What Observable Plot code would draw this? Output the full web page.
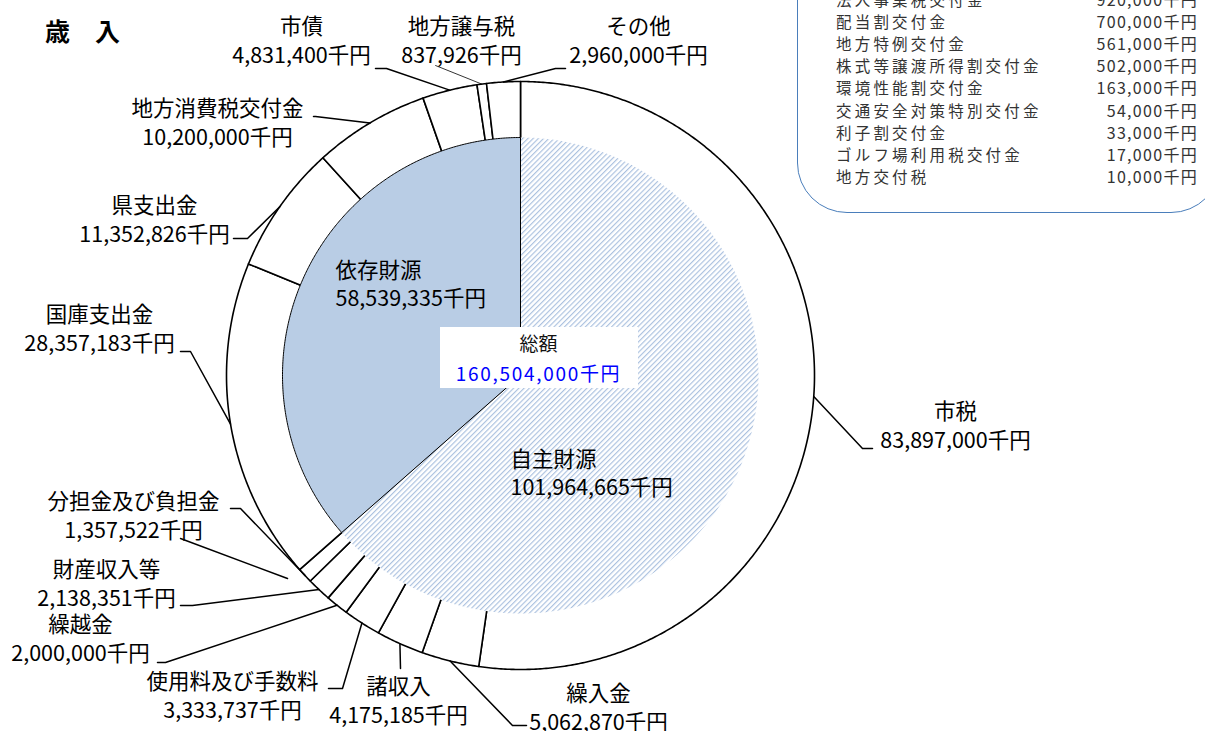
<!DOCTYPE html>
<html><head><meta charset="utf-8">
<script src="https://cdn.jsdelivr.net/npm/d3@7"></script>
<script src="https://cdn.jsdelivr.net/npm/@observablehq/plot@0.6"></script>
<style>
body{margin:0;background:#fff;}
#wrap{position:relative;width:1205px;height:731px;overflow:hidden;font-family:"Noto Sans CJK JP",sans-serif;}
#wrap svg{position:absolute;left:0;top:0;}
#title{position:absolute;left:45px;top:18px;font-size:25px;font-weight:bold;line-height:1;color:#000;white-space:pre;}
#note{position:absolute;left:797px;top:-80px;width:424px;height:293px;border:1.6px solid #4a7ebb;border-radius:50px;box-sizing:border-box;}
.row{position:absolute;height:22px;line-height:22px;color:#333;white-space:pre;}
.rn{left:836px;font-size:15.5px;letter-spacing:3.2px;}
.rv{right:7px;text-align:right;font-size:16px;letter-spacing:1.3px;}
</style>
</head><body>
<div id="wrap"><div id="title">歳　入</div><div id="note"></div></div>
<script>
// ---- data ----
const outerNames = ["市税","繰入金","諸収入","使用料及び手数料","繰越金","財産収入等","分担金及び負担金","国庫支出金","県支出金","地方消費税交付金","市債","地方譲与税","その他"];
const outerValues = [83897000,5062870,4175185,3333737,2000000,2138351,1357522,28357183,11352826,10200000,4831400,837926,2960000];
const innerNames = ["自主財源","依存財源"];
const innerValues = [101964665,58539335];
const totalLabel = "総額";
const totalValue = 160504000;
const otherNames = ["法人事業税交付金","配当割交付金","地方特例交付金","株式等譲渡所得割交付金","環境性能割交付金","交通安全対策特別交付金","利子割交付金","ゴルフ場利用税交付金","地方交付税"];
const otherValues = [920000,700000,561000,502000,163000,54000,33000,17000,10000];
const unit = "千円";

// ---- layout ----
const cx = 520, cy = 375, rOuter = 294, rInner = 238;
const labelLayout = {
  "市税":            {lx:955, ly:412, elbow:[862,448], end:[872,448]},
  "繰入金":          {lx:598, ly:694, elbow:[512,725], end:[526,725]},
  "諸収入":          {lx:398, ly:687, elbow:[400,668], end:[400,668]},
  "使用料及び手数料": {lx:232, ly:682, elbow:[342,688], end:[328,688]},
  "繰越金":          {lx:80,  ly:625, elbow:[165,662], end:[157,662]},
  "財産収入等":      {lx:106, ly:570, elbow:[192,605], end:[180,605]},
  "分担金及び負担金": {lx:133, ly:502, elbow:[240,508], end:[230,508], extra:[[180,538],[287,578]]},
  "国庫支出金":      {lx:99,  ly:315, elbow:[190,351], end:[180,351]},
  "県支出金":        {lx:154, ly:206, elbow:[247,238], end:[233,238]},
  "地方消費税交付金": {lx:217, ly:109, elbow:[315,116], end:[313,116]},
  "市債":            {lx:301, ly:27,  elbow:[386,68],  end:[375,68]},
  "地方譲与税":      {lx:461, ly:27,  elbow:[435,65],  end:[435,65], thin:true},
  "その他":          {lx:638, ly:27,  elbow:[555,68],  end:[565,68]}
};
const innerLabelLayout = {"依存財源":[335,271], "自主財源":[510,460]};
const lineGap = 29;
const centerBox = {x1:440, x2:638, y1:327, y2:388, tx:538, ty:344};

const fmt = d3.format(",");
const polar = (deg, r) => [cx + r*Math.sin(deg*Math.PI/180), cy - r*Math.cos(deg*Math.PI/180)];

function slices(names, values){
  let acc = 0; const t = d3.sum(values);
  return names.map((n,i)=>{const a0 = acc/t*360; acc += values[i]; const a1 = acc/t*360; return {name:n, value:values[i], a0, a1, mid:(a0+a1)/2};});
}
function wedgePts(sl, r){
  const pts = [];
  for (const s of sl){
    pts.push({name:s.name, x:cx, y:cy});
    const n = Math.max(2, Math.ceil((s.a1-s.a0)/0.4));
    for (let i=0;i<=n;i++){const [x,y] = polar(s.a0+(s.a1-s.a0)*i/n, r); pts.push({name:s.name, x, y});}
    pts.push({name:s.name, x:cx, y:cy});
  }
  return pts;
}
const outerSl = slices(outerNames, outerValues);
const innerSl = slices(innerNames, innerValues);
const outerPts = wedgePts(outerSl, rOuter);
const innerPts = wedgePts(innerSl, rInner);

const leaders = [], thinLeaders = [], texts = [];
for (const s of outerSl){
  const L = labelLayout[s.name];
  const [px,py] = polar(s.mid, rOuter);
  const arr = L.thin ? thinLeaders : leaders;
  arr.push({name:s.name, x:px, y:py}, {name:s.name, x:L.elbow[0], y:L.elbow[1]}, {name:s.name, x:L.end[0], y:L.end[1]});
  if (L.extra) L.extra.forEach(p => leaders.push({name:s.name+"_x", x:p[0], y:p[1]}));
  texts.push({x:L.lx, y:L.ly, t:s.name}, {x:L.lx, y:L.ly+lineGap, t:fmt(s.value)+unit});
}
const innerTexts = [];
for (const s of innerSl){
  const [x,y] = innerLabelLayout[s.name];
  innerTexts.push({x, y, t:s.name}, {x, y:y+lineGap-1, t:fmt(s.value)+unit});
}

const FF = "'Noto Sans CJK JP', sans-serif";
const chart = Plot.plot({
  width:1205, height:731, margin:0,
  x:{domain:[0,1205], range:[0,1205], axis:null},
  y:{domain:[0,731], range:[0,731], axis:null},
  marks:[
    Plot.line(outerPts, {x:"x", y:"y", z:"name", fill:"white", stroke:"black", strokeWidth:1.6, curve:"linear"}),
    Plot.line(innerPts.filter(d=>d.name===innerNames[0]), {x:"x", y:"y", z:"name", fill:"white", stroke:"none", curve:"linear", className:"hatchwedge"}),
    Plot.line(innerPts.filter(d=>d.name===innerNames[1]), {x:"x", y:"y", z:"name", fill:"#b9cde5", stroke:"black", strokeWidth:1, curve:"linear"}),
    Plot.rect([centerBox], {x1:"x1", x2:"x2", y1:"y1", y2:"y2", fill:"white"}),
    Plot.line(leaders, {x:"x", y:"y", z:"name", stroke:"black", strokeWidth:1.5}),
    Plot.line(thinLeaders, {x:"x", y:"y", z:"name", stroke:"black", strokeWidth:0.8}),
    Plot.text(texts, {x:"x", y:"y", text:"t", fontSize:21.5, fontFamily:FF, fill:"#000", textAnchor:"middle", lineAnchor:"middle"}),
    Plot.text(innerTexts, {x:"x", y:"y", text:"t", fontSize:21.5, fontFamily:FF, fill:"#000", textAnchor:"start", lineAnchor:"middle"}),
    Plot.text([{x:centerBox.tx, y:centerBox.ty, t:totalLabel}], {x:"x", y:"y", text:"t", fontSize:19, fontFamily:FF, fill:"#111", textAnchor:"middle", lineAnchor:"middle", letterSpacing:2}),
    Plot.text([{x:centerBox.tx, y:centerBox.ty+30, t:fmt(totalValue)+unit}], {x:"x", y:"y", text:"t", fontSize:19, fontFamily:FF, fill:"#0000ff", textAnchor:"middle", lineAnchor:"middle"})
  ]
});
const svg = d3.select(chart);
const pat = svg.insert("defs", ":first-child").append("pattern")
  .attr("id","hatch").attr("patternUnits","userSpaceOnUse").attr("width",3.7).attr("height",3.7)
  .attr("patternTransform","rotate(45)");
pat.append("rect").attr("width",3.7).attr("height",3.7).attr("fill","white");
pat.append("line").attr("x1",0.6).attr("y1",0).attr("x2",0.6).attr("y2",3.7).attr("stroke","#a7bede").attr("stroke-width",1.1);
svg.selectAll(".hatchwedge path").attr("fill","url(#hatch)");
svg.selectAll("text").filter(function(){return this.textContent===fmt(totalValue)+unit;}).attr("letter-spacing","1.7");
document.getElementById("wrap").prepend(chart);

// ---- note box ----
const wrap = document.getElementById("wrap");
otherNames.forEach((n,i)=>{
  const yc = -1 + i*22.1;
  const a = document.createElement("div"); a.className="row rn"; a.style.top=(yc-11)+"px"; a.textContent=n; wrap.appendChild(a);
  const b = document.createElement("div"); b.className="row rv"; b.style.top=(yc-11)+"px"; b.textContent=fmt(otherValues[i])+unit; wrap.appendChild(b);
});
</script>
</body></html>
